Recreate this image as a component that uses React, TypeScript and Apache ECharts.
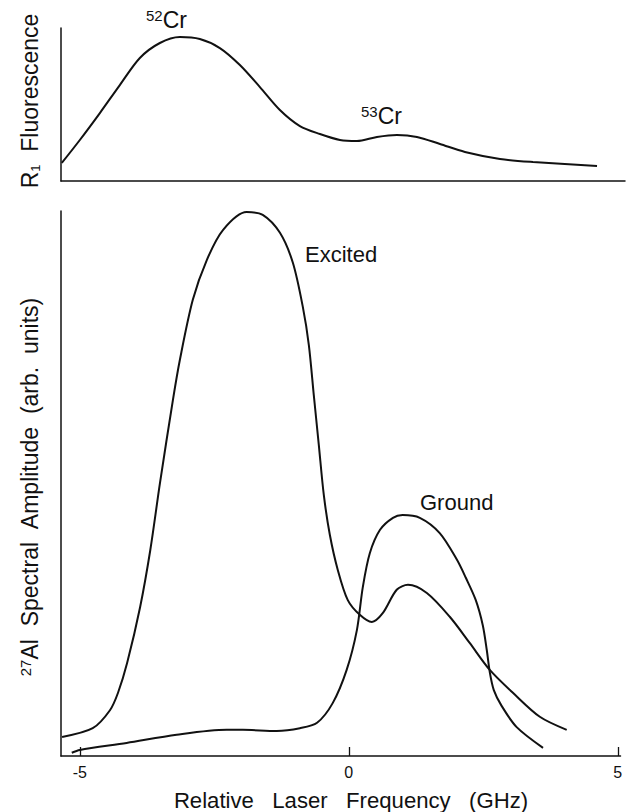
import React, { useEffect, useRef } from "react";
import * as echarts from "echarts";

// Top panel: R1 fluorescence (GHz, arb.)
const fluorFreq = [-5.335, -5.0, -4.628, -4.257, -3.885, -3.513, -3.141, -2.77, -2.398, -2.026, -1.654, -1.283, -0.911, -0.539, -0.167, 0.149, 0.52, 0.892, 1.264, 1.691, 2.156, 2.807, 3.42, 4.61];
const fluorVals = [11.8, 26.8, 44.4, 62.7, 80.4, 90.2, 94.1, 92.8, 86.9, 75.8, 61.4, 46.4, 35.9, 30.7, 26.8, 26.1, 28.8, 30.1, 28.8, 24.2, 19.0, 14.4, 12.4, 9.8];

// Bottom panel: Excited
const excitedFreq = [-5.33, -4.76, -4.44, -4.29, -4.12, -3.88, -3.69, -3.51, -3.27, -3.14, -2.9, -2.64, -2.34, -1.9, -1.6, -1.28, -1.04, -0.855, -0.743, -0.651, -0.558, -0.465, -0.353, -0.204, -0.019, 0.204, 0.428, 0.63, 0.89, 1.1, 1.45, 1.88, 2.25, 2.62, 3.05, 3.55, 4.05];
const excitedVals = [3.5, 5.1, 8.4, 11.6, 17.1, 27.3, 37.8, 50.1, 65.3, 72.7, 83.7, 91.0, 96.5, 99.8, 99.3, 96.0, 90.5, 82.4, 75.4, 66.2, 57.1, 47.9, 40.6, 34.1, 28.6, 25.9, 24.6, 26.2, 30.5, 31.4, 29.9, 25.5, 20.7, 15.8, 11.6, 7.2, 4.8];

// Bottom panel: Ground
const groundFreq = [-5.15, -5.0, -4.13, -3.2, -2.27, -1.97, -1.34, -0.91, -0.59, -0.3, -0.04, 0.15, 0.26, 0.39, 0.58, 0.82, 1.0, 1.32, 1.69, 2.01, 2.175, 2.36, 2.49, 2.565, 2.62, 2.695, 2.84, 3.12, 3.61];
const groundVals = [0.6, 1.1, 2.4, 3.9, 4.8, 4.8, 4.6, 5.1, 6.1, 9.7, 15.8, 23.1, 31.0, 37.2, 41.5, 43.7, 44.2, 43.7, 40.9, 36.0, 32.7, 28.6, 24.0, 19.4, 15.4, 12.1, 9.2, 5.3, 1.5];

const xTicks = [-5, 0, 5];

const FONT = "'Liberation Sans', Arial, Helvetica, sans-serif";
const INK = "#111";
const SP = " \u00A0\u00A0";
const SP2 = " \u00A0";

const zip = (xs: number[], ys: number[]) => xs.map((x, i) => [x, ys[i]]);

export default function App() {
  const ref = useRef<HTMLDivElement>(null);
  useEffect(() => {
    if (!ref.current) return;
    const chart = echarts.init(ref.current, undefined, { renderer: "svg" });
    const axisLine = { show: true, onZero: false, lineStyle: { color: INK, width: 1.5 } };
    const lineSeries = (xi: number, data: number[][]) => ({
      type: "line",
      xAxisIndex: xi,
      yAxisIndex: xi,
      data,
      smooth: 0.3,
      showSymbol: false,
      lineStyle: { color: INK, width: 2 },
    });
    const sup = { fontSize: 15, fontFamily: FONT, verticalAlign: "top", padding: [0, 0, 9, 0] };
    chart.setOption({
      animation: false,
      backgroundColor: "#fff",
      grid: [
        { left: 61, top: 28, width: 564, height: 153 },
        { left: 61, top: 211, width: 559.5, height: 545 },
      ],
      xAxis: [
        {
          type: "value", gridIndex: 0, min: -5.35, max: 5.13,
          axisLine, axisTick: { show: false }, axisLabel: { show: false }, splitLine: { show: false },
        },
        {
          type: "value", gridIndex: 1, min: -5.35, max: 5.05,
          axisLine,
          axisTick: { show: true, inside: true, length: 9, lineStyle: { color: INK, width: 1.3 }, customValues: xTicks },
          axisLabel: { show: true, margin: 8, fontSize: 16, color: INK, fontFamily: FONT, customValues: xTicks, formatter: (v: number) => (v < 0 ? "-" + Math.abs(v) : String(v)) },
          splitLine: { show: false },
        },
      ],
      yAxis: [
        {
          type: "value", gridIndex: 0, min: 0, max: 100,
          axisLine, axisTick: { show: false }, axisLabel: { show: false }, splitLine: { show: false },
        },
        {
          type: "value", gridIndex: 1, min: 0, max: 100,
          axisLine, axisTick: { show: false }, axisLabel: { show: false }, splitLine: { show: false },
        },
      ],
      series: [
        lineSeries(0, zip(fluorFreq, fluorVals)),
        lineSeries(1, zip(excitedFreq, excitedVals)),
        lineSeries(1, zip(groundFreq, groundVals)),
      ],
      graphic: [
        {
          type: "text", x: 146, y: 32,
          style: {
            text: "{s|52}{b|Cr}", fill: INK, fontFamily: FONT, textVerticalAlign: "bottom",
            rich: { s: sup, b: { fontSize: 23, fontFamily: FONT } },
          },
        },
        {
          type: "text", x: 361, y: 128,
          style: {
            text: "{s|53}{b|Cr}", fill: INK, fontFamily: FONT, textVerticalAlign: "bottom",
            rich: { s: sup, b: { fontSize: 23, fontFamily: FONT } },
          },
        },
        {
          type: "text", x: 305, y: 254,
          style: { text: "Excited", fill: INK, fontSize: 22, fontFamily: FONT, textVerticalAlign: "middle" },
        },
        {
          type: "text", x: 420, y: 502,
          style: { text: "Ground", fill: INK, fontSize: 22, fontFamily: FONT, textVerticalAlign: "middle" },
        },
        {
          type: "text", x: 351, y: 801, scaleX: 1.03,
          style: { text: "Relative" + SP + "Laser" + SP + "Frequency" + SP + "(GHz)", fill: INK, fontSize: 21.5, fontFamily: FONT, textAlign: "center", textVerticalAlign: "middle" },
        },
        {
          type: "text", x: 30, y: 101, rotation: Math.PI / 2,
          style: {
            text: "{b|R}{u|1}{b|" + SP2 + "Fluorescence}", fill: INK, fontFamily: FONT, textAlign: "center", textVerticalAlign: "middle",
            rich: { b: { fontSize: 23, fontFamily: FONT }, u: { fontSize: 13, fontFamily: FONT, verticalAlign: "bottom" } },
          },
        },
        {
          type: "text", x: 30, y: 487, rotation: Math.PI / 2,
          style: {
            text: "{s|27}{b|Al" + SP2 + "Spectral" + SP2 + "Amplitude" + SP2 + "(arb." + SP2 + "units)}", fill: INK, fontFamily: FONT, textAlign: "center", textVerticalAlign: "middle",
            rich: { b: { fontSize: 23, fontFamily: FONT }, s: sup },
          },
        },
      ],
    });
    return () => chart.dispose();
  }, []);
  return <div ref={ref} style={{ position: "absolute", left: 0, top: 0, width: 626, height: 812 }} />;
}
